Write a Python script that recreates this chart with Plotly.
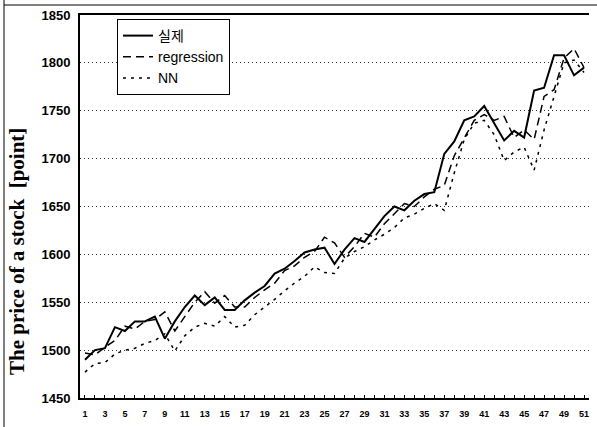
import plotly.graph_objects as go

x_idx = list(range(1, 52))
x_labels = [str(i) if i % 2 == 1 else "" for i in x_idx]

actual = [1490, 1500, 1502, 1524, 1520, 1530, 1530, 1535, 1512, 1530,
          1545, 1557, 1547, 1555, 1542, 1542, 1552, 1560, 1567, 1580,
          1585, 1593, 1602, 1605, 1607, 1590, 1605, 1617, 1613, 1626,
          1640, 1650, 1646, 1656, 1663, 1665, 1705, 1718, 1740, 1744,
          1755, 1737, 1719, 1729, 1722, 1771, 1774, 1808, 1808, 1787, 1795]

regression = [1497, 1495, 1503, 1510, 1525, 1522, 1530, 1532, 1540, 1520,
              1535, 1550, 1561, 1549, 1557, 1545, 1545, 1555, 1563, 1570,
              1583, 1588, 1597, 1603, 1618, 1612, 1597, 1608, 1622, 1618,
              1632, 1643, 1653, 1650, 1660, 1668, 1672, 1703, 1722, 1740,
              1746, 1740, 1744, 1722, 1730, 1720, 1765, 1772, 1805, 1815, 1795]

nn = [1477, 1486, 1487, 1496, 1500, 1502, 1507, 1510, 1517, 1499,
      1515, 1524, 1528, 1525, 1535, 1524, 1526, 1537, 1545, 1553,
      1562, 1570, 1577, 1587, 1581, 1580, 1596, 1603, 1608, 1615,
      1621, 1628, 1638, 1642, 1648, 1653, 1646, 1685, 1720, 1737,
      1740, 1725, 1698, 1707, 1712, 1688, 1730, 1766, 1800, 1803, 1790]

y_ticks = [1450, 1500, 1550, 1600, 1650, 1700, 1750, 1800, 1850]

names = ["실제", "regression", "NN"]

fig = go.Figure()
fig.add_trace(go.Scatter(x=x_idx, y=actual, mode="lines", name=names[0],
                         line=dict(color="black", width=2)))
fig.add_trace(go.Scatter(x=x_idx, y=regression, mode="lines", name=names[1],
                         line=dict(color="black", width=1.5, dash="8px,5px")))
fig.add_trace(go.Scatter(x=x_idx, y=nn, mode="lines", name=names[2],
                         line=dict(color="black", width=1.5, dash="3px,5px")))

L, R, T, B = 80, 8, 15, 29
W, H = 597, 427
pw = W - L - R
ph = H - T - B

fig.update_layout(
    width=W, height=H,
    margin=dict(l=L, r=R, t=T, b=B),
    paper_bgcolor="white", plot_bgcolor="white",
    showlegend=True,
    legend=dict(x=(117 - L) / pw, y=1 - 4 / ph, xanchor="left", yanchor="top",
                bgcolor="white", bordercolor="black", borderwidth=1,
                font=dict(family="Liberation Sans, Noto Sans CJK KR", size=14, color="black"),
                itemwidth=30, tracegroupgap=2),
    xaxis=dict(range=[0.5, 51.5], tickmode="array", tickvals=x_idx, ticktext=x_labels,
               ticks="inside", ticklen=3, tickcolor="black", showgrid=False,
               showline=True, linecolor="black", linewidth=1.5, mirror=True,
               tickfont=dict(family="Liberation Sans Narrow, Liberation Sans", size=9,
                             color="black", weight="bold"),
               ticklabelstandoff=6,
               zeroline=False, fixedrange=True),
    yaxis=dict(range=[1450, 1850], tickmode="array", tickvals=y_ticks,
               ticks="", showgrid=True, gridcolor="#333333", griddash="1px,3px", gridwidth=1,
               showline=True, linecolor="black", linewidth=2,
               tickfont=dict(family="Liberation Sans", size=13, color="black", weight="bold"),
               zeroline=False, ticklabelstandoff=5, fixedrange=True),
    annotations=[dict(text="The price of a stock  [point]", textangle=-90,
                      xref="paper", yref="paper", x=(17 - L) / pw, y=1 - (252 - T) / ph,
                      xanchor="center", yanchor="middle", showarrow=False,
                      font=dict(family="Liberation Serif", size=21, color="black", weight="bold"))],
    shapes=[dict(type="line", xref="paper", yref="paper",
                 x0=(4 - L) / pw, x1=(4 - L) / pw, y0=-B / ph, y1=1 + T / ph,
                 line=dict(color="black", width=1)),
            dict(type="line", xref="paper", yref="paper",
                 x0=(4 - L) / pw, x1=1 + R / pw, y0=1 + (T - 5) / ph, y1=1 + (T - 5) / ph,
                 line=dict(color="black", width=1))],
)

fig.write_html("out.html", config={"displayModeBar": False},
               post_script="document.body.style.margin='0';")
